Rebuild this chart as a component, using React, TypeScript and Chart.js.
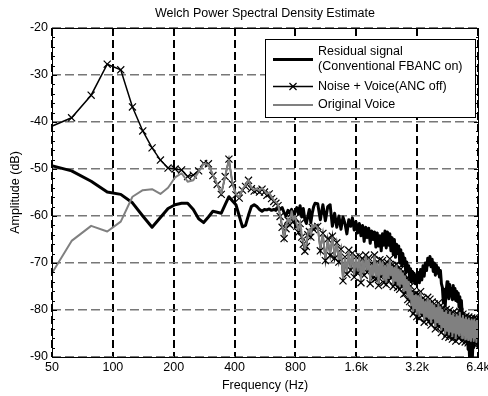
import React, { useEffect, useRef } from 'react';
import { Chart, registerables } from 'chart.js';

Chart.register(...registerables);

const FONT = "'Liberation Sans', Arial, Helvetica, sans-serif";
const TITLE = 'Welch Power Spectral Density Estimate';
const X_TITLE = 'Frequency (Hz)';
const Y_TITLE = 'Amplitude (dB)';
const X_TICKS = [50, 100, 200, 400, 800, 1600, 3200, 6400];
const X_TICK_LABELS = ['50', '100', '200', '400', '800', '1.6k', '3.2k', '6.4k'];
const Y_MIN = -90;
const Y_MAX = -20;
const Y_STEP = 10;
const Y_MINOR_STEP = 2;
const SERIES_NAMES = ['Residual signal (Conventional FBANC on)', 'Noise + Voice(ANC off)', 'Original Voice'];
const LEGEND_TEXT = [['Residual signal', '(Conventional FBANC on)'], ['Noise + Voice(ANC off)'], ['Original Voice']];

// Frequency bins (Hz)
const FREQ_LOW = [
  46.9, 62.5, 78.1, 93.8, 109.4, 125, 140.6, 156.3, 171.9, 187.5,
  203.1, 218.8, 234.4, 250, 265.6, 281.3, 296.9, 312.5, 328.1, 343.8,
  359.4, 375, 390.6, 406.3, 421.9, 437.5, 453.1, 468.8, 484.4, 500,
  515.6, 531.3, 546.9, 562.5, 578.1, 593.8, 609.4, 625, 640.6, 656.3,
  671.9, 687.5, 703.1, 718.8, 734.4, 750, 765.6, 781.3, 796.9, 812.5,
  828.1, 843.8, 859.4, 875, 890.6, 906.3, 921.9, 937.5, 953.1, 968.8,
  984.4, 1000,
];
const FREQ_MID = [
  1031.3, 1062.5, 1093.8, 1125, 1156.3, 1187.5, 1218.8, 1250, 1281.3, 1312.5,
  1343.8, 1375, 1406.3, 1437.5, 1468.8, 1500, 1531.3, 1562.5, 1593.8, 1625,
  1656.3, 1687.5, 1718.8, 1750, 1781.3, 1812.5, 1843.8, 1875, 1906.3, 1937.5,
  1968.8, 2000, 2031.3, 2062.5, 2093.8, 2125, 2156.3, 2187.5, 2218.8, 2250,
  2281.3, 2312.5, 2343.8, 2375, 2406.3, 2437.5, 2468.8, 2500, 2531.3, 2562.5,
  2593.8, 2625, 2656.3, 2687.5, 2718.8, 2750, 2781.3, 2812.5, 2843.8, 2875,
  2906.3, 2937.5, 2968.8, 3000, 3031.3, 3062.5, 3093.8, 3125, 3156.3, 3187.5,
];
const FREQ_HIGH = [
  3234.4, 3281.3, 3328.1, 3375, 3421.9, 3468.8, 3515.6, 3562.5, 3609.4, 3656.3,
  3703.1, 3750, 3796.9, 3843.8, 3890.6, 3937.5, 3984.4, 4031.3, 4078.1, 4125,
  4171.9, 4218.8, 4265.6, 4312.5, 4359.4, 4406.3, 4453.1, 4500, 4546.9, 4593.8,
  4640.6, 4687.5, 4734.4, 4781.3, 4828.1, 4875, 4921.9, 4968.8, 5015.6, 5062.5,
  5109.4, 5156.3, 5203.1, 5250, 5296.9, 5343.8, 5390.6, 5437.5, 5484.4, 5531.3,
  5578.1, 5625, 5671.9, 5718.8, 5765.6, 5812.5, 5859.4, 5906.3, 5953.1, 6000,
  6046.9, 6093.8, 6140.6, 6187.5, 6234.4, 6281.3, 6328.1, 6375, 6421.9,
];

// Residual signal (Conventional FBANC on), dB
const RESIDUAL_LOW = [
  -49.0, -50.4, -52.6, -54.9, -55.4, -57.2, -60.0, -62.4, -60.3, -58.4,
  -57.6, -57.3, -57.3, -58.6, -60.6, -61.4, -60.2, -59.0, -59.2, -59.4,
  -57.6, -55.9, -56.8, -57.6, -60.0, -62.3, -62.0, -59.8, -58.0, -57.6,
  -58.0, -58.6, -59.0, -58.6, -58.7, -58.5, -58.8, -58.6, -58.8, -58.3,
  -58.6, -58.2, -59.3, -60.0, -58.8, -59.4, -58.6, -60.2, -59.0, -58.2,
  -59.6, -57.8, -60.2, -58.4, -60.8, -61.6, -60.0, -58.6, -61.4, -59.4,
  -58.0, -57.3,
];
const RESIDUAL_MID = [
  -57.4, -60.8, -57.6, -61.0, -58.0, -57.6, -62.2, -59.4, -62.4, -60.0,
  -62.8, -60.2, -61.6, -63.8, -60.8, -62.2, -60.4, -63.0, -61.2, -63.6,
  -61.6, -64.2, -62.0, -65.4, -62.4, -64.6, -62.6, -65.8, -63.2, -65.0,
  -63.4, -66.6, -63.6, -66.4, -64.2, -67.4, -63.8, -66.2, -63.2, -66.8,
  -63.4, -66.2, -63.8, -67.4, -64.6, -68.2, -65.0, -68.8, -66.0, -68.0,
  -66.4, -70.0, -67.2, -70.6, -68.0, -70.2, -69.0, -72.0, -69.8, -71.6,
  -70.6, -73.4, -71.2, -74.0, -71.8, -73.8, -72.2, -74.4, -72.6, -73.2,
];
const RESIDUAL_HIGH = [
  -72.0, -74.2, -71.4, -73.6, -70.6, -72.8, -70.0, -71.6, -69.0, -70.4,
  -68.6, -70.8, -69.2, -71.8, -70.0, -72.6, -70.4, -72.2, -71.0, -73.0,
  -71.6, -74.4, -75.2, -78.4, -75.6, -79.2, -76.0, -74.0, -75.8, -77.6,
  -74.6, -77.0, -75.4, -77.8, -74.8, -77.6, -75.4, -78.0, -76.0, -78.2,
  -76.4, -79.4, -77.2, -80.2, -78.0, -81.0, -80.6, -82.8, -82.0, -84.0,
  -83.0, -86.6, -84.8, -88.4, -86.4, -90.0, -88.0, -91.2, -87.8, -90.4,
  -86.4, -88.0, -84.2, -86.4, -83.8, -86.0, -84.2, -85.6, -84.0,
];

// Noise + Voice (ANC off), dB
const NOISE_VOICE_LOW = [
  -41.4, -39.1, -34.3, -27.7, -28.9, -36.8, -41.9, -45.5, -48.1, -49.8,
  -50.0, -50.2, -51.6, -51.3, -50.4, -48.8, -48.9, -51.4, -53.3, -55.4,
  -51.6, -47.9, -53.2, -55.5, -56.2, -54.5, -53.7, -52.4, -54.2, -54.7,
  -54.5, -54.9, -54.3, -54.9, -55.6, -55.3, -56.3, -56.9, -57.3, -57.8,
  -60.1, -62.4, -64.8, -62.7, -60.9, -61.9, -59.4, -61.2, -60.4, -62.2,
  -63.5, -61.6, -64.5, -66.0, -67.5, -66.5, -64.0, -63.3, -64.5, -62.4,
  -62.9, -62.4,
];
const NOISE_VOICE_MID = [
  -62.2, -67.4, -63.7, -69.5, -64.9, -68.4, -64.3, -69.0, -65.7, -69.8,
  -67.1, -73.8, -68.7, -72.4, -67.3, -71.5, -67.9, -73.0, -68.7, -72.2,
  -68.5, -74.2, -69.1, -72.6, -68.3, -72.0, -68.9, -74.4, -70.1, -73.2,
  -68.3, -73.4, -69.7, -74.8, -69.3, -73.0, -69.5, -74.2, -70.3, -74.6,
  -69.9, -73.8, -69.1, -73.2, -70.5, -75.0, -70.7, -74.4, -70.3, -75.2,
  -71.1, -75.6, -71.3, -75.0, -71.9, -76.6, -72.5, -76.4, -73.3, -77.8,
  -73.7, -78.2, -74.9, -79.6, -76.1, -80.8, -76.7, -80.2, -76.5, -81.4,
];
const NOISE_VOICE_HIGH = [
  -76.7, -81.8, -76.1, -81.2, -77.5, -82.6, -77.9, -82.0, -77.3, -82.4,
  -77.7, -83.2, -78.3, -82.4, -78.7, -84.0, -79.3, -83.2, -78.5, -83.6,
  -79.1, -84.8, -79.7, -84.2, -80.3, -85.6, -79.9, -85.0, -80.7, -85.8,
  -80.1, -85.2, -80.9, -86.2, -80.5, -85.4, -81.3, -86.6, -80.7, -85.6,
  -81.1, -86.0, -80.3, -85.4, -81.5, -86.6, -80.9, -85.8, -81.7, -86.8,
  -81.3, -86.4, -81.9, -87.0, -81.5, -86.2, -82.1, -87.2, -81.7, -86.4,
  -82.1, -87.2, -81.7, -86.6, -82.3, -87.4, -81.9, -86.4, -82.7,
];

// Original Voice, dB
const VOICE_LOW = [
  -74.1, -65.3, -62.1, -63.3, -61.2, -55.9, -54.5, -54.3, -55.3, -54.0,
  -51.8, -50.9, -52.7, -52.4, -50.6, -48.9, -49.1, -51.2, -53.2, -55.2,
  -51.5, -48.1, -53.0, -55.3, -56.0, -54.3, -53.5, -52.3, -54.0, -54.5,
  -54.2, -54.6, -54.0, -54.6, -55.3, -55.0, -56.0, -56.6, -57.0, -57.5,
  -59.8, -62.0, -64.4, -62.3, -60.5, -61.5, -59.0, -60.8, -60.0, -61.8,
  -63.0, -61.2, -64.0, -65.5, -67.0, -66.0, -63.5, -62.8, -64.0, -61.9,
  -62.4, -61.9,
];
const VOICE_MID = [
  -62.5, -66.8, -64.0, -68.9, -65.2, -67.8, -64.6, -68.4, -66.0, -69.2,
  -67.4, -73.2, -69.0, -71.8, -67.6, -70.9, -68.2, -72.4, -69.0, -71.6,
  -68.8, -73.6, -69.4, -72.0, -68.6, -71.4, -69.2, -73.8, -70.4, -72.6,
  -68.6, -72.8, -70.0, -74.2, -69.6, -72.4, -69.8, -73.6, -70.6, -74.0,
  -70.2, -73.2, -69.4, -72.6, -70.8, -74.4, -71.0, -73.8, -70.6, -74.6,
  -71.4, -75.0, -71.6, -74.4, -72.2, -76.0, -72.8, -75.8, -73.6, -77.2,
  -74.0, -77.6, -75.2, -79.0, -76.4, -80.2, -77.0, -79.6, -76.8, -80.8,
];
const VOICE_HIGH = [
  -77.0, -81.2, -76.4, -80.6, -77.8, -82.0, -78.2, -81.4, -77.6, -81.8,
  -78.0, -82.6, -78.6, -81.8, -79.0, -83.4, -79.6, -82.6, -78.8, -83.0,
  -79.4, -84.2, -80.0, -83.6, -80.6, -85.0, -80.2, -84.4, -81.0, -85.2,
  -80.4, -84.6, -81.2, -85.6, -80.8, -84.8, -81.6, -86.0, -81.0, -85.0,
  -81.4, -85.4, -80.6, -84.8, -81.8, -86.0, -81.2, -85.2, -82.0, -86.2,
  -81.6, -85.8, -82.2, -86.4, -81.8, -85.6, -82.4, -86.6, -82.0, -85.8,
  -82.4, -86.6, -82.0, -86.0, -82.6, -86.8, -82.2, -85.8, -83.0,
];

function toPoints(freqs: number[], vals: number[]) {
  return freqs.map((x, i) => ({ x, y: vals[i] }));
}

const residualPts = [
  ...toPoints(FREQ_LOW, RESIDUAL_LOW),
  ...toPoints(FREQ_MID, RESIDUAL_MID),
  ...toPoints(FREQ_HIGH, RESIDUAL_HIGH),
];
const noiseVoicePts = [
  ...toPoints(FREQ_LOW, NOISE_VOICE_LOW),
  ...toPoints(FREQ_MID, NOISE_VOICE_MID),
  ...toPoints(FREQ_HIGH, NOISE_VOICE_HIGH),
];
const voicePts = [
  ...toPoints(FREQ_LOW, VOICE_LOW),
  ...toPoints(FREQ_MID, VOICE_MID),
  ...toPoints(FREQ_HIGH, VOICE_HIGH),
];

const framePlugin = {
  id: 'frameTicks',
  afterDatasetsDraw(chart: any) {
    const { ctx, chartArea, scales } = chart;
    const { left, right, top, bottom } = chartArea;
    ctx.save();
    ctx.strokeStyle = '#000';
    ctx.lineWidth = 1;
    ctx.setLineDash([]);
    ctx.strokeRect(left + 0.5, top + 0.5, right - left, bottom - top);
    ctx.beginPath();
    for (let v = Y_MIN; v <= Y_MAX; v += Y_MINOR_STEP) {
      const y = Math.round(scales.y.getPixelForValue(v)) + 0.5;
      const len = v % Y_STEP === 0 ? 5 : 3;
      ctx.moveTo(left, y);
      ctx.lineTo(left + len, y);
      ctx.moveTo(right + 1, y);
      ctx.lineTo(right + 1 - len, y);
    }
    for (const v of X_TICKS) {
      const x = Math.round(scales.x.getPixelForValue(v)) + 0.5;
      ctx.moveTo(x, bottom);
      ctx.lineTo(x, bottom - 5);
      ctx.moveTo(x, top);
      ctx.lineTo(x, top + 5);
    }
    ctx.stroke();
    ctx.restore();
  },
};

const legendPlugin = {
  id: 'boxLegend',
  afterDatasetsDraw(chart: any) {
    const { ctx, chartArea } = chart;
    const ds = chart.data.datasets;
    const bx = Math.round(chartArea.right - 213);
    const by = Math.round(chartArea.top + 11);
    const bw = 210;
    const bh = 78;
    ctx.save();
    ctx.setLineDash([]);
    ctx.fillStyle = '#fff';
    ctx.fillRect(bx, by, bw, bh);
    ctx.strokeStyle = '#000';
    ctx.lineWidth = 1;
    ctx.strokeRect(bx + 0.5, by + 0.5, bw, bh);
    const x0 = bx + 8;
    const x1 = bx + 48;
    const tx = bx + 53;
    const rowsText = [[12.5, 27.5], [47.5], [66]];
    const sampleY = [20.5, 47.5, 66];
    ctx.font = `12.5px ${FONT}`;
    ctx.textBaseline = 'middle';
    ctx.textAlign = 'left';
    for (let i = 0; i < 3; i++) {
      const d = ds[i];
      const sy = by + sampleY[i];
      ctx.strokeStyle = d.borderColor;
      ctx.lineWidth = d.borderWidth;
      ctx.beginPath();
      ctx.moveTo(x0, sy);
      ctx.lineTo(x1, sy);
      ctx.stroke();
      if (d.pointStyle === 'crossRot') {
        const r = d.pointRadius * Math.SQRT1_2;
        const cx = (x0 + x1) / 2;
        ctx.lineWidth = d.pointBorderWidth;
        ctx.beginPath();
        ctx.moveTo(cx - r, sy - r);
        ctx.lineTo(cx + r, sy + r);
        ctx.moveTo(cx + r, sy - r);
        ctx.lineTo(cx - r, sy + r);
        ctx.stroke();
      }
      ctx.fillStyle = '#000';
      LEGEND_TEXT[i].forEach((t, j) => {
        ctx.fillText(t, tx, by + rowsText[i][j]);
      });
    }
    ctx.restore();
  },
};

export default function App() {
  const ref = useRef<HTMLCanvasElement>(null);
  useEffect(() => {
    document.body.style.margin = '0';
    const canvas = ref.current;
    if (!canvas) return;
    const font = { family: FONT, size: 12.5, weight: 'normal' as const, lineHeight: 1.2 };
    const chart = new Chart(canvas, {
      type: 'line',
      data: {
        datasets: [
          {
            label: SERIES_NAMES[0],
            data: residualPts,
            borderColor: '#000',
            borderWidth: 3,
            pointRadius: 0,
            tension: 0,
            borderJoinStyle: 'round',
            order: 2,
          },
          {
            label: SERIES_NAMES[1],
            data: noiseVoicePts,
            borderColor: '#000',
            borderWidth: 1.5,
            pointStyle: 'crossRot',
            pointRadius: 5,
            pointBorderColor: '#000',
            pointBackgroundColor: 'rgba(0,0,0,0)',
            pointBorderWidth: 1.2,
            tension: 0,
            order: 1,
          },
          {
            label: SERIES_NAMES[2],
            data: voicePts,
            borderColor: '#808080',
            borderWidth: 2,
            pointRadius: 0,
            tension: 0,
            borderJoinStyle: 'round',
            order: 0,
          },
        ] as any,
      },
      options: {
        animation: false,
        responsive: false,
        devicePixelRatio: 1,
        events: [],
        layout: { padding: { left: 0, right: 10, top: 0, bottom: 0 } },
        plugins: {
          legend: { display: false },
          tooltip: { enabled: false },
          title: {
            display: true,
            text: TITLE,
            color: '#000',
            font,
            padding: { top: 6, bottom: 7 },
            fullSize: false,
          },
        },
        scales: {
          x: {
            type: 'logarithmic',
            min: X_TICKS[0],
            max: X_TICKS[X_TICKS.length - 1],
            afterBuildTicks: (axis: any) => {
              axis.ticks = X_TICKS.map((value) => ({ value }));
            },
            afterFit: (axis: any) => {
              axis.height = 39;
              axis.paddingLeft = 0;
              axis.paddingRight = 0;
            },
            ticks: {
              autoSkip: false,
              maxRotation: 0,
              minRotation: 0,
              padding: 3,
              color: '#000',
              font,
              callback: (_v: any, i: number) => X_TICK_LABELS[i] ?? '',
            },
            grid: { color: '#000', lineWidth: 2, drawTicks: false },
            border: { display: false, dash: [8, 4] },
            title: { display: true, text: X_TITLE, color: '#000', font, padding: { top: 0, bottom: 2.5 } },
          },
          y: {
            type: 'linear',
            min: Y_MIN,
            max: Y_MAX,
            afterFit: (axis: any) => {
              axis.width = 52;
              axis.paddingTop = 0;
              axis.paddingBottom = 0;
            },
            ticks: {
              stepSize: Y_STEP,
              padding: 4,
              color: '#000',
              font,
              callback: (v: any) => String(v),
            },
            grid: { color: '#777', lineWidth: 1.5, drawTicks: false },
            border: { display: false, dash: [9, 4] },
            title: { display: true, text: Y_TITLE, color: '#000', font, padding: { top: 8.5, bottom: 0 } },
          },
        },
      } as any,
      plugins: [framePlugin, legendPlugin],
    });
    return () => chart.destroy();
  }, []);
  return (
    <div style={{ width: 488, height: 396, background: '#fff' }}>
      <canvas ref={ref} width={488} height={396} style={{ display: 'block', width: 488, height: 396 }} />
    </div>
  );
}
